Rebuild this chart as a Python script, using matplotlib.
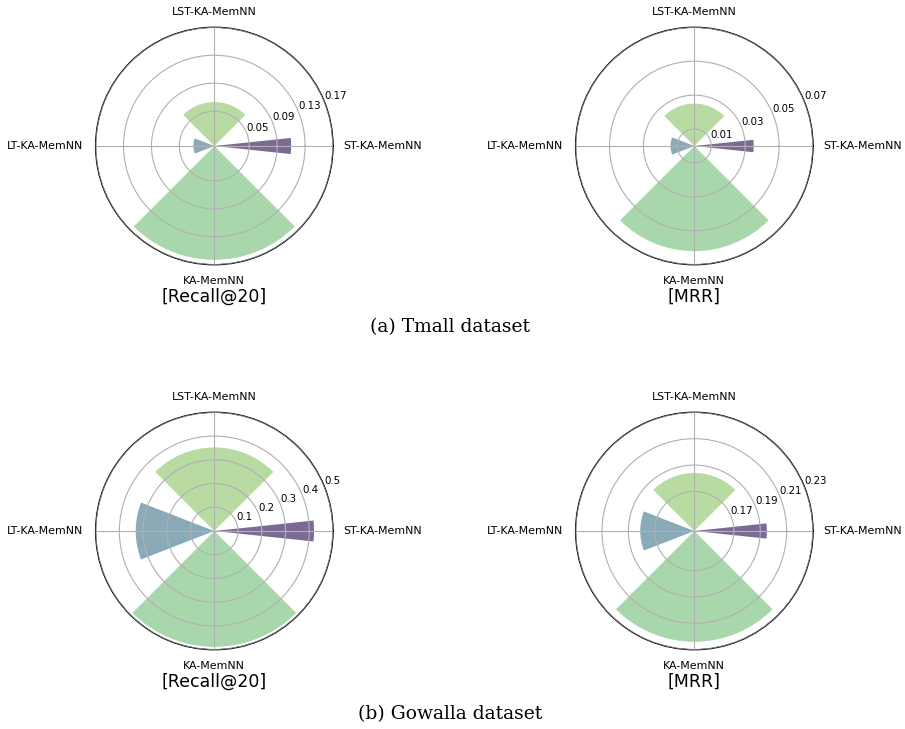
import numpy as np
import matplotlib
matplotlib.use("Agg")
import matplotlib.pyplot as plt

# Model variants, placed counter-clockwise from the right: ST, LST, LT, KA
models = ["ST-KA-MemNN", "LST-KA-MemNN", "LT-KA-MemNN", "KA-MemNN"]
angles = np.array([0.0, np.pi / 2, np.pi, 3 * np.pi / 2])
widths = np.array([0.21, np.pi / 2, 0.74, np.pi / 2])
colors = ["#7c6a96", "#b8dba1", "#8aaab8", "#a9d7ac"]

# Scores per dataset and metric (order follows `models`)
tmall_recall = [0.110, 0.063, 0.030, 0.163]
tmall_mrr = [0.035, 0.025, 0.014, 0.062]
gowalla_recall = [0.420, 0.352, 0.331, 0.488]
gowalla_mrr = [0.195, 0.184, 0.181, 0.224]

# Radial ticks and limits for each panel
tmall_recall_ticks = [0.05, 0.09, 0.13, 0.17]
tmall_mrr_ticks = [0.01, 0.03, 0.05, 0.07]
gowalla_recall_ticks = [0.1, 0.2, 0.3, 0.4, 0.5]
gowalla_mrr_ticks = [0.17, 0.19, 0.21, 0.23]

tmall_recall_lim = (0.0, 0.17)
tmall_mrr_lim = (0.0, 0.07)
gowalla_recall_lim = (0.0, 0.5)
gowalla_mrr_lim = (0.14, 0.23)

metric_titles = ["[Recall@20]", "[MRR]"]
captions = ["(a) Tmall dataset", "(b) Gowalla dataset"]

W, H = 905, 729
fig = plt.figure(figsize=(W / 100, H / 100), dpi=100)

R = 118.7  # polar radius in pixels
centers_x = [214.3, 694.3]
centers_y = [146.0, 531.0]

panels = [
    (tmall_recall, tmall_recall_ticks, tmall_recall_lim),
    (tmall_mrr, tmall_mrr_ticks, tmall_mrr_lim),
    (gowalla_recall, gowalla_recall_ticks, gowalla_recall_lim),
    (gowalla_mrr, gowalla_mrr_ticks, gowalla_mrr_lim),
]


def px(x, y):
    """Pixel position (from top-left) to figure fraction."""
    return x / W, 1 - y / H


for i, (vals, ticks, lim) in enumerate(panels):
    row, col = divmod(i, 2)
    cx, cy = centers_x[col], centers_y[row]
    rect = [(cx - R) / W, (H - cy - R) / H, 2 * R / W, 2 * R / H]
    ax = fig.add_axes(rect, projection="polar")
    base = lim[0]
    heights = np.asarray(vals) - base
    ax.bar(angles, heights, width=widths, bottom=base, color=colors,
           linewidth=0, zorder=2)
    ax.set_ylim(*lim)
    ax.set_yticks(ticks)
    ax.set_yticklabels([f"{t:g}" for t in ticks], fontsize=7.4)
    ax.set_xticks(angles)
    ax.set_xticklabels([])
    ax.set_rlabel_position(22.5)
    ax.grid(True, color="#b0b0b0", linewidth=0.8, zorder=1)
    ax.set_axisbelow(False)
    ax.spines["polar"].set_linewidth(1.0)
    ax.spines["polar"].set_color("black")

    # model names around the circle
    fig.text(*px(cx + R + 10.5, cy), models[0], ha="left", va="center",
             fontsize=7.9)
    fig.text(*px(cx, cy - R - 15), models[1], ha="center", va="center",
             fontsize=7.9)
    fig.text(*px(cx - R - 12, cy), models[2], ha="right", va="center",
             fontsize=7.9)
    fig.text(*px(cx, cy + R + 16), models[3], ha="center", va="center",
             fontsize=7.9)

    fig.text(*px(cx, cy + 151), metric_titles[col],
             ha="center", va="center", fontsize=12.5)

fig.text(*px(450, 327), captions[0], ha="center", va="center",
         fontsize=13.5, family="DejaVu Serif")
fig.text(*px(450, 714), captions[1], ha="center", va="center",
         fontsize=13.5, family="DejaVu Serif")

fig.savefig("out.png", dpi=100)
